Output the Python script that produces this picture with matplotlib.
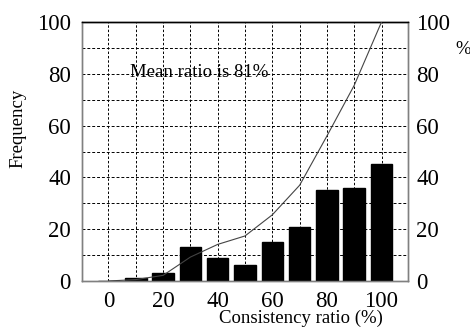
import matplotlib
matplotlib.use("Agg")
import matplotlib.pyplot as plt
import numpy as np

# consistency ratio bins (%) and counts
ratio = [0, 10, 20, 30, 40, 50, 60, 70, 80, 90, 100]
freq = [0, 1, 3, 13, 9, 6, 15, 21, 35, 36, 45]
ticks = [0, 20, 40, 60, 80, 100]

cum = np.cumsum(freq) / np.sum(freq) * 100

plt.rcParams['font.family'] = ['Liberation Serif', 'DejaVu Serif']

fig = plt.figure(figsize=(4.7, 3.32), dpi=100)
ax = fig.add_axes([82 / 470, 1 - 281 / 332, 326 / 470, 259 / 332])

ax.bar(ratio, freq, width=7.9, color='black', edgecolor='black', zorder=3)

ax2 = ax.twinx()
ax2.plot(ratio, cum, color='#444444', lw=0.8, zorder=4)

ax.set_xlim(-9.7, 109.7)
ax.set_ylim(0, 100)
ax2.set_ylim(0, 100)

ax.set_xticks(ticks)
ax.set_xticks(np.arange(0, 101, 10), minor=True)
ax.set_yticks(ticks)
ax.set_yticks(np.arange(0, 101, 10), minor=True)
ax2.set_yticks(ticks)

ax.grid(which='both', axis='x', color='black', ls=(0, (2.5, 2)), lw=0.7)
ax.grid(which='both', axis='y', color='black', ls=(0, (3, 2)), lw=0.7)
ax.set_axisbelow(True)

for a in (ax, ax2):
    a.tick_params(which='both', length=0, labelsize=16.5)
    for s in ('left', 'bottom', 'right'):
        a.spines[s].set_color('#808080')
        a.spines[s].set_linewidth(1.0)
    a.spines['top'].set_color('black')
    a.spines['top'].set_linewidth(1.0)

ax.tick_params(axis='y', pad=8)
ax.tick_params(axis='x', pad=7)
ax2.tick_params(axis='y', pad=6)

ax.set_xlabel('Consistency ratio (%)', fontsize=13.5)
ax.xaxis.set_label_coords(0.672, -0.112)
ax.set_ylabel('Frequency', fontsize=13.5)
ax.yaxis.set_label_coords(-0.17, 0.59)

fig.text(463 / 470, 1 - 50 / 332, '%', fontsize=13.5, ha='center', va='center')
ax.text(8, 80.5, 'Mean ratio is 81%', fontsize=13.5, ha='left', va='center')

fig.savefig('out.png', dpi=100)
